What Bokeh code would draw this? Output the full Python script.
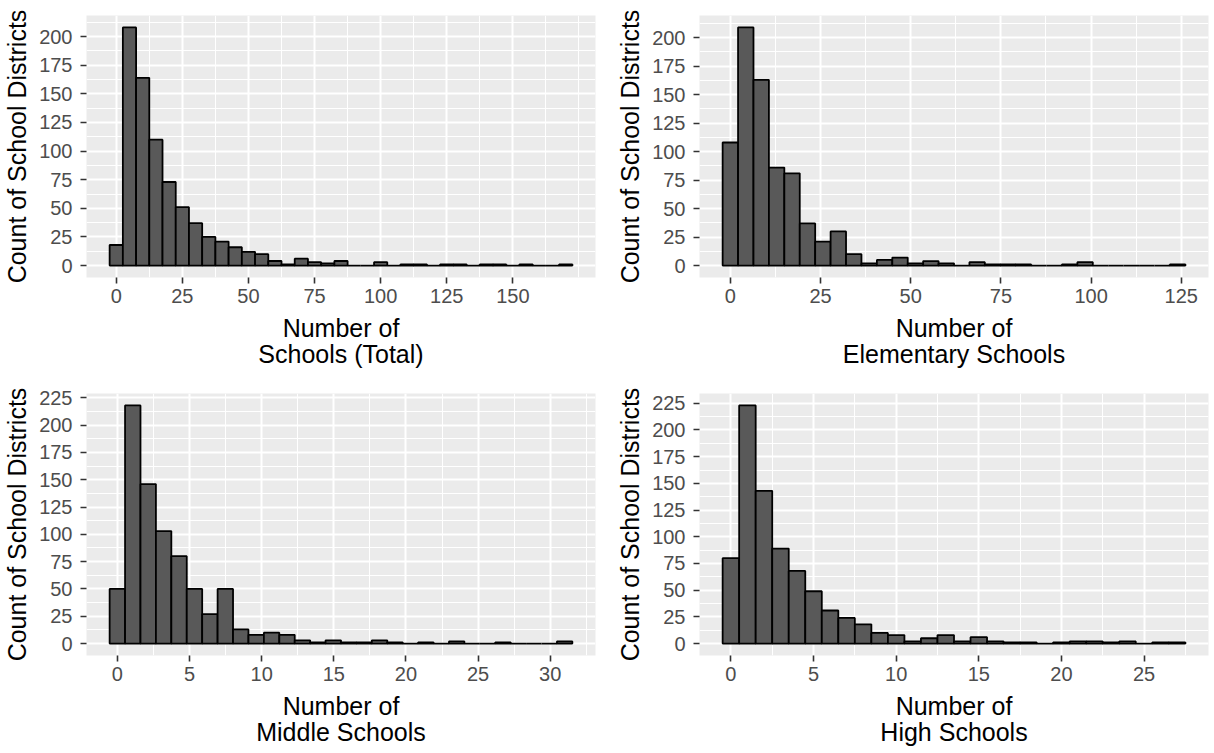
import numpy as np
from bokeh.plotting import figure
from bokeh.layouts import gridplot
from bokeh.models import Range1d, FixedTicker
from bokeh.embed import file_html
from bokeh.resources import INLINE

# ---------------- data ----------------
# Total schools: bins of width 5 centred on 0, 5, 10, ...
total_bin_width = 5.0
total_bin_first_center = 0.0
total_counts = [18, 208, 164, 110, 73, 51, 37, 25, 21, 16, 12, 10, 4, 1, 6, 3, 2, 4,
                0, 0, 3, 0, 1, 1, 0, 1, 1, 0, 1, 1, 0, 1, 0, 0, 1]
total_xticks = [0, 25, 50, 75, 100, 125, 150]
total_yticks = [0, 25, 50, 75, 100, 125, 150, 175, 200]

# Elementary schools: 30 bins spanning 0..124
elem_bin_width = 124 / 29
elem_bin_first_center = 0.0
elem_counts = [108, 209, 163, 86, 81, 37, 21, 30, 10, 2, 5, 7, 2, 4, 2, 0, 3, 1, 1, 1,
               0, 0, 1, 3, 0, 0, 0, 0, 0, 1]
elem_xticks = [0, 25, 50, 75, 100, 125]
elem_yticks = [0, 25, 50, 75, 100, 125, 150, 175, 200]

# Middle schools: 30 bins spanning 0..31
mid_bin_width = 31 / 29
mid_bin_first_center = 0.0
mid_counts = [50, 218, 146, 103, 80, 50, 27, 50, 13, 8, 10, 8, 3, 1, 3, 1, 1, 3, 1, 0,
              1, 0, 2, 0, 0, 1, 0, 0, 0, 2]
mid_xticks = [0, 5, 10, 15, 20, 25, 30]
mid_yticks = [0, 25, 50, 75, 100, 125, 150, 175, 200, 225]

# High schools: bins of width 1 centred on 0..27
high_bin_width = 1.0
high_bin_first_center = 0.0
high_counts = [80, 223, 143, 89, 68, 49, 31, 24, 18, 10, 8, 2, 5, 8, 2, 6, 2, 1, 1, 0,
               1, 2, 2, 1, 2, 0, 1, 1]
high_xticks = [0, 5, 10, 15, 20, 25]
high_yticks = [0, 25, 50, 75, 100, 125, 150, 175, 200, 225]

y_title = "Count of School Districts"
x_titles = ["Number of\nSchools (Total)", "Number of\nElementary Schools",
            "Number of\nMiddle Schools", "Number of\nHigh Schools"]

FONT = "Liberation Sans"


def minor_of(ticks):
    t = np.asarray(ticks, dtype=float)
    step = t[1] - t[0]
    ext = np.concatenate([[t[0] - step], t, [t[-1] + step]])
    mids = (ext[:-1] + ext[1:]) / 2
    return sorted(set(list(mids) + [ext[0], ext[-1]]))


def panel(counts, width, first_center, xticks, yticks, xtitle,
          bl, br, bt, bb):
    counts = np.asarray(counts, dtype=float)
    n = len(counts)
    edges = first_center - width / 2 + width * np.arange(n + 1)
    lo, hi = edges[0], edges[-1]
    pad = 0.05 * (hi - lo)
    ymax = counts.max()
    p = figure(frame_width=509, frame_height=262,
               x_range=Range1d(lo - pad, hi + pad),
               y_range=Range1d(-0.05 * ymax, 1.05 * ymax),
               output_backend="svg", toolbar_location=None,
               min_border_left=bl, min_border_right=br,
               min_border_top=bt, min_border_bottom=bb,
               background_fill_color="#EBEBEB", border_fill_color="white",
               outline_line_color=None)
    p.quad(left=edges[:-1], right=edges[1:], bottom=0, top=counts,
           fill_color="#595959", line_color="black", line_width=1.8)

    p.xaxis.ticker = FixedTicker(ticks=xticks, minor_ticks=minor_of(xticks))
    p.yaxis.ticker = FixedTicker(ticks=yticks, minor_ticks=minor_of(yticks))
    for g in (p.xgrid, p.ygrid):
        g.grid_line_color = "white"
        g.grid_line_width = 2
        g.minor_grid_line_color = "white"
        g.minor_grid_line_width = 1
    for ax in (p.xaxis, p.yaxis):
        ax.axis_line_color = None
        ax.major_tick_line_color = "#333333"
        ax.major_tick_line_width = 1.6
        ax.major_tick_in = 0
        ax.major_tick_out = 6
        ax.minor_tick_line_color = None
        ax.major_label_text_font = FONT
        ax.major_label_text_font_size = "20px"
        ax.major_label_text_color = "#4D4D4D"
        ax.axis_label_text_font = FONT
        ax.axis_label_text_font_size = "25px"
        ax.axis_label_text_font_style = "normal"
        ax.axis_label_text_color = "black"
    p.xaxis.major_label_standoff = 5
    p.yaxis.major_label_standoff = 8
    p.xaxis.axis_label = xtitle
    p.xaxis.axis_label_standoff = 8
    p.xaxis.axis_label_text_line_height = 0.94
    p.yaxis.axis_label = y_title
    p.yaxis.axis_label_standoff = 5
    return p


p1 = panel(total_counts, total_bin_width, total_bin_first_center,
           total_xticks, total_yticks, x_titles[0], 86, 18, 15, 101)
p2 = panel(elem_counts, elem_bin_width, elem_bin_first_center,
           elem_xticks, elem_yticks, x_titles[1], 85, 5, 15, 101)
p3 = panel(mid_counts, mid_bin_width, mid_bin_first_center,
           mid_xticks, mid_yticks, x_titles[2], 86, 18, 15, 92)
p4 = panel(high_counts, high_bin_width, high_bin_first_center,
           high_xticks, high_yticks, x_titles[3], 85, 5, 15, 92)

grid = gridplot([[p1, p2], [p3, p4]], toolbar_location=None)

open("out.html", "w").write(file_html(grid, INLINE))
